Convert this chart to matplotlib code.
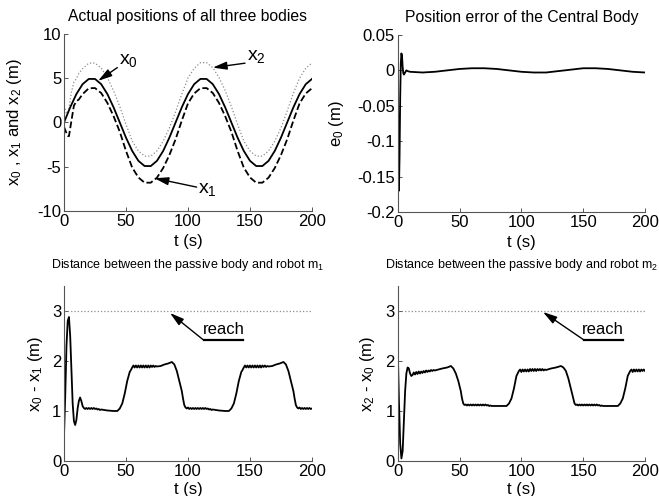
import matplotlib
matplotlib.use("Agg")
import matplotlib.pyplot as plt

plt.rcParams["font.family"] = ["Liberation Sans", "DejaVu Sans"]
plt.rcParams["mathtext.fontset"] = "custom"
plt.rcParams["mathtext.rm"] = "Liberation Sans"
plt.rcParams["mathtext.it"] = "Liberation Sans"
plt.rcParams["mathtext.default"] = "regular"
plt.rcParams["axes.unicode_minus"] = False

# --- top left: positions of the three bodies ---
t_x0 = [0, 5, 10, 15, 20, 25, 30, 35, 40, 45, 50, 55, 60, 65, 70, 75, 80, 85, 90,
        95, 100, 105, 110, 115, 120, 125, 130, 135, 140, 145, 150, 155, 160, 165,
        170, 175, 180, 185, 190, 195, 200]
x0 = [0, 1.71, 3.21, 4.33, 4.92, 4.92, 4.33, 3.21, 1.71, 0, -1.71, -3.21, -4.33,
      -4.92, -4.92, -4.33, -3.21, -1.71, 0, 1.71, 3.21, 4.33, 4.92, 4.92, 4.33,
      3.21, 1.71, 0, -1.71, -3.21, -4.33, -4.92, -4.92, -4.33, -3.21, -1.71, 0,
      1.71, 3.21, 4.33, 4.92]

t_x12 = [0, 2, 3, 4, 6, 8, 10, 12, 15, 20, 25, 30, 35, 40, 45, 50, 55, 60, 65, 70,
         75, 80, 85, 90, 95, 100, 105, 110, 115, 120, 125, 130, 135, 140, 145, 150,
         155, 160, 165, 170, 175, 180, 185, 190, 195, 200]
x1 = [-0.5, -1.2, -1.5, -1.55, 0.2, 1.9, 2.4, 2.6, 3.2, 3.87, 3.89, 3.33, 2.21,
      0.71, -1.05, -3.21, -5.09, -6.21, -6.8, -6.8, -6.23, -5.14, -3.68, -1.9,
      0.21, 2.16, 3.28, 3.87, 3.89, 3.33, 2.21, 0.71, -1.05, -3.21, -5.09, -6.21,
      -6.8, -6.8, -6.23, -5.14, -3.68, -1.9, 0.21, 2.16, 3.28, 3.87]
x2 = [1.9, 1.04, 1.08, 1.57, 3.43, 4.56, 4.96, 5.55, 6.08, 6.7, 6.72, 6.15, 5.06,
      3.59, 1.8, -0.21, -2.09, -3.21, -3.8, -3.8, -3.21, -2.11, -0.61, 1.2, 3.21,
      5.01, 6.13, 6.75, 6.77, 6.2, 5.09, 3.61, 1.8, -0.21, -2.09, -3.21, -3.8,
      -3.8, -3.21, -2.11, -0.61, 1.3, 3.31, 5.01, 6.13, 6.72]

# --- top right: position error of the central body ---
t_e0 = [0, 0.5, 1, 1.5, 2, 2.5, 3, 3.5, 4, 4.5, 5, 6, 7, 8, 10, 20, 30, 40, 50, 60,
        70, 80, 90, 100, 110, 120, 130, 140, 150, 160, 170, 180, 190, 200]
e0 = [0, -0.08, -0.17, -0.12, -0.04, 0.01, 0.024, 0.02, 0.005, -0.004, -0.006,
      -0.003, 0.0, -0.001, -0.002, -0.003, -0.002, 0.0, 0.002, 0.003, 0.003, 0.002,
      0.0, -0.002, -0.003, -0.003, -0.001, 0.001, 0.003, 0.003, 0.002, 0.0, -0.002,
      -0.003]

# --- bottom left: x0 - x1 ---
t_d1 = [0, 1, 2, 3, 4, 5, 6, 7, 8, 9, 10, 11, 12, 13, 14, 15, 16,
        17, 18, 19, 20, 21, 22, 23, 24, 25, 26, 27, 28, 29, 30,
        35, 40, 43, 45, 47, 49, 51, 53, 54, 55,
        56, 57, 58, 59, 60, 61, 62, 63, 64, 65, 66, 67, 68, 69, 70, 71, 72, 73, 74, 75,
        78, 81, 84, 87, 89, 91, 93, 95, 96, 97, 98, 99,
        100, 101, 102, 103, 104, 105, 106, 107, 108, 109, 110, 111, 112, 113, 114,
        115, 116, 117, 118, 119, 120,
        125, 130, 133, 135, 137, 139, 141, 143, 144, 145,
        146, 147, 148, 149, 150, 151, 152, 153, 154, 155, 156, 157, 158, 159, 160,
        161, 162, 163, 164, 165,
        168, 171, 174, 177, 179, 181, 183, 185, 186, 187, 188, 189,
        190, 191, 192, 193, 194, 195, 196, 197, 198, 199, 200]
d1 = [0.5, 1.3, 2.3, 2.8, 2.88, 2.5, 1.8, 1.15, 0.8, 0.72, 0.82, 1.05, 1.2, 1.27,
      1.2, 1.1, 1.06,
      1.04, 1.06, 1.04, 1.06, 1.04, 1.06, 1.04, 1.06, 1.04, 1.05, 1.03, 1.04, 1.02, 1.03,
      1.01, 1.0, 1.0, 1.05, 1.15, 1.35, 1.6, 1.78, 1.82, 1.87,
      1.91, 1.87, 1.91, 1.87, 1.91, 1.87, 1.91, 1.87, 1.91, 1.87, 1.91, 1.87, 1.91,
      1.87, 1.91, 1.88, 1.91, 1.88, 1.9, 1.89,
      1.9, 1.93, 1.95, 1.98, 1.93, 1.8, 1.6, 1.4, 1.25, 1.12, 1.07, 1.05,
      1.07, 1.04, 1.06, 1.04, 1.06, 1.04, 1.06, 1.04, 1.06, 1.04, 1.06, 1.04, 1.06,
      1.04, 1.06, 1.04, 1.05, 1.03, 1.04, 1.02, 1.03,
      1.01, 1.0, 1.0, 1.05, 1.15, 1.35, 1.6, 1.78, 1.82, 1.87,
      1.91, 1.87, 1.91, 1.87, 1.91, 1.87, 1.91, 1.87, 1.91, 1.87, 1.91, 1.87, 1.91,
      1.87, 1.91, 1.88, 1.91, 1.88, 1.9, 1.89,
      1.9, 1.93, 1.95, 1.98, 1.93, 1.8, 1.6, 1.4, 1.25, 1.12, 1.07, 1.05,
      1.07, 1.04, 1.06, 1.04, 1.06, 1.04, 1.06, 1.04, 1.06, 1.04, 1.05]

# --- bottom right: x2 - x0 ---
t_d2 = [0, 1, 2, 3, 4, 5, 6, 7, 8, 9, 10, 11, 12,
        13, 14, 15, 16, 17, 18, 19, 20, 21, 22, 23, 24, 25, 26, 27, 28, 29, 30,
        33, 36, 40, 43, 45, 47, 49, 51, 52, 53, 54,
        55, 56, 57, 58, 59, 60, 61, 62, 63, 64, 65, 66, 67, 68, 69, 70, 71, 72, 73,
        74, 75, 76,
        80, 85, 88, 90, 92, 94, 96, 97, 98,
        99, 100, 101, 102, 103, 104, 105, 106, 107, 108, 109, 110, 111, 112, 113,
        114, 115, 116, 117, 118, 119, 120,
        124, 128, 132, 134, 136, 138, 140, 142, 143, 144,
        145, 146, 147, 148, 149, 150, 151, 152, 153, 154, 155, 156, 157, 158, 159,
        160, 161, 162, 163, 164, 165, 166,
        170, 175, 178, 180, 182, 184, 186, 187, 188,
        189, 190, 191, 192, 193, 194, 195, 196, 197, 198, 199, 200]
d2 = [2.3, 1.2, 0.35, 0.05, 0.2, 0.8, 1.4, 1.75, 1.87, 1.85, 1.75, 1.7, 1.72,
      1.77, 1.73, 1.78, 1.74, 1.79, 1.75, 1.79, 1.76, 1.8, 1.77, 1.81, 1.78, 1.81,
      1.79, 1.82, 1.8, 1.82, 1.81,
      1.83, 1.85, 1.87, 1.9, 1.85, 1.75, 1.6, 1.4, 1.25, 1.15, 1.12,
      1.13, 1.11, 1.13, 1.11, 1.13, 1.11, 1.13, 1.11, 1.13, 1.11, 1.13, 1.11, 1.13,
      1.11, 1.13, 1.11, 1.13, 1.11, 1.12, 1.1, 1.11, 1.1,
      1.1, 1.1, 1.1, 1.15, 1.25, 1.45, 1.7, 1.75, 1.8,
      1.83, 1.78, 1.83, 1.79, 1.83, 1.79, 1.83, 1.79, 1.84, 1.8, 1.84, 1.8, 1.84,
      1.8, 1.84, 1.81, 1.84, 1.81, 1.84, 1.81, 1.83, 1.82,
      1.85, 1.87, 1.9, 1.87, 1.8, 1.65, 1.45, 1.25, 1.15, 1.12,
      1.13, 1.11, 1.13, 1.11, 1.13, 1.11, 1.13, 1.11, 1.13, 1.11, 1.13, 1.11, 1.13,
      1.11, 1.13, 1.11, 1.13, 1.11, 1.12, 1.1, 1.11, 1.1,
      1.1, 1.1, 1.1, 1.15, 1.25, 1.45, 1.7, 1.75, 1.8,
      1.83, 1.78, 1.83, 1.79, 1.83, 1.79, 1.83, 1.79, 1.83, 1.8, 1.83, 1.8]

reach_t = [0, 200]
reach_level = [3, 3]

TICK_FS = 12
SPINE = "#555555"


def style(ax, ylim, yticks, ylabel, ylabel_x, xlabel_y, ylabels=None):
    ax.set_xlim(0, 200)
    ax.set_ylim(*ylim)
    ax.set_xticks([0, 50, 100, 150, 200])
    ax.set_yticks(yticks)
    if ylabels is not None:
        ax.set_yticklabels(ylabels)
    for s in ("top", "right"):
        ax.spines[s].set_visible(False)
    for s in ("left", "bottom"):
        ax.spines[s].set_color(SPINE)
        ax.spines[s].set_linewidth(0.8)
    ax.tick_params(direction="in", length=3, width=0.7, color=SPINE,
                   labelsize=TICK_FS)
    ax.tick_params(axis="x", pad=2.5)
    ax.tick_params(axis="y", pad=2)
    ax.set_xlabel("t (s)", fontsize=TICK_FS)
    ax.xaxis.set_label_coords(0.5, xlabel_y)
    ax.set_ylabel(ylabel, fontsize=TICK_FS)
    ax.yaxis.set_label_coords(ylabel_x, 0.5)


fig = plt.figure(figsize=(6.59, 4.96), dpi=100)
ax1 = fig.add_axes([0.0971, 0.5746, 0.3763, 0.3569])
ax2 = fig.add_axes([0.6035, 0.5726, 0.3753, 0.3569])
ax3 = fig.add_axes([0.0971, 0.0706, 0.3763, 0.3528])
ax4 = fig.add_axes([0.6035, 0.0706, 0.3753, 0.3528])

arrow = dict(arrowstyle="-|>,head_length=0.7,head_width=0.2", color="k",
             lw=1.0, mutation_scale=12, shrinkA=0, shrinkB=0)

# top left
ax1.plot(t_x12, x2, ":", color="0.55", lw=0.9)
ax1.plot(t_x12, x1, "--", color="k", lw=1.3)
ax1.plot(t_x0, x0, "-", color="k", lw=1.3)
style(ax1, (-10, 10), [-10, -5, 0, 5, 10], "x$_0$ , x$_1$ and x$_2$ (m)", -0.16, -0.13)
ax1.set_title("Actual positions of all three bodies", fontsize=11.3, pad=9)
ax1.annotate("", xy=(27.5, 4.7), xytext=(43, 6.2), arrowprops=arrow)
ax1.text(52, 7.0, "x$_0$", fontsize=14, ha="center", va="center")
ax1.annotate("", xy=(120, 6.2), xytext=(146, 6.7), arrowprops=arrow)
ax1.text(155, 7.5, "x$_2$", fontsize=14, ha="center", va="center")
ax1.annotate("", xy=(73, -6.3), xytext=(107, -7.3), arrowprops=arrow)
ax1.text(116, -7.6, "x$_1$", fontsize=14, ha="center", va="center")

# top right
ax2.plot(t_e0, e0, "-", color="k", lw=1.3)
style(ax2, (-0.2, 0.05), [-0.2, -0.15, -0.1, -0.05, 0, 0.05], "e$_0$ (m)", -0.21,
      -0.13, ["-0.2", "-0.15", "-0.1", "-0.05", "0", "0.05"])
ax2.set_title("Position error of the Central Body", fontsize=11.3, pad=9)

# bottom left
ax3.plot(reach_t, reach_level, ":", color="0.55", lw=0.9)
ax3.plot(t_d1, d1, "-", color="k", lw=1.3)
style(ax3, (0, 3.5), [0, 1, 2, 3], "x$_0$ - x$_1$ (m)", -0.077, -0.122)
ax3.set_title("Distance between the passive body and robot m$_1$", fontsize=9, pad=13)
ax3.annotate("", xy=(85.5, 2.96), xytext=(112, 2.43), arrowprops=arrow)
ax3.text(129, 2.62, "reach", fontsize=12, ha="center", va="center")
ax3.plot([113, 144], [2.41, 2.41], "-", color="k", lw=1.6)

# bottom right
ax4.plot(reach_t, reach_level, ":", color="0.55", lw=0.9)
ax4.plot(t_d2, d2, "-", color="k", lw=1.3)
style(ax4, (0, 3.5), [0, 1, 2, 3], "x$_2$ - x$_0$ (m)", -0.084, -0.122)
ax4.set_title("Distance between the passive body and robot m$_2$", fontsize=9, pad=13)
ax4.annotate("", xy=(117.5, 2.98), xytext=(150, 2.43), arrowprops=arrow)
ax4.text(166, 2.62, "reach", fontsize=12, ha="center", va="center")
ax4.plot([150.5, 182], [2.41, 2.41], "-", color="k", lw=1.6)

fig.savefig("out.png", dpi=100)
